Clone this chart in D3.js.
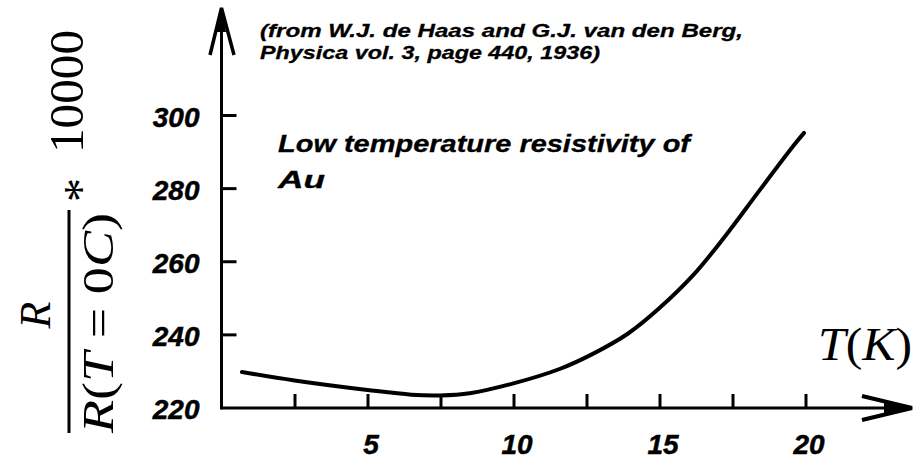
<!DOCTYPE html>
<html>
<head>
<meta charset="utf-8">
<script src="https://cdn.jsdelivr.net/npm/d3@7"></script>
<style>
  html, body { margin: 0; padding: 0; background: #fff; }
  svg { display: block; }
  .lbl { font-family: 'Liberation Sans', Arial, sans-serif; font-weight: bold; font-style: italic; stroke: #000; stroke-width: 0.5px; }
  .math { font-family: 'Liberation Serif', 'DejaVu Serif', serif; }
</style>
</head>
<body>
<svg id="graph"></svg>
<script>
const temps = [0.7, 2.5, 5, 6.5, 7.5, 8.5, 10, 11.6, 12.7, 13.9, 15, 16.2, 17.3, 18.4, 19.6, 19.95]
const resist = [229.7, 227.4, 224.8, 223.5, 223.3, 223.9, 226.6, 230.6, 234.6, 240.1, 247.2, 256.6, 267.4, 279.1, 291.7, 295.1]
const xTicks = [2.5, 5, 7.5, 10, 12.5, 15, 17.5, 20]
const xLabels = [5, 10, 15, 20]
const yTicks = [240, 260, 280, 300]
const yLabels = [220, 240, 260, 280, 300]

const w = 917
const h = 461
const x0 = 221.5
const y0 = 408

const svg = d3.select('#graph').attr('width', w).attr('height', h)

const x = d3.scaleLinear().domain([0, 20]).range([x0, 805.5])
const y = d3.scaleLinear().domain([220, 300]).range([407.5, 115])

// axis lines with arrow heads
svg.append('line')
  .attr('x1', x0).attr('y1', y0).attr('x2', 910).attr('y2', y0)
  .attr('stroke', '#000').attr('stroke-width', 3)
svg.append('line')
  .attr('x1', x0).attr('y1', y0 + 1.5).attr('x2', x0).attr('y2', 10)
  .attr('stroke', '#000').attr('stroke-width', 3)

svg.append('path')
  .attr('d', 'M862,396 L912,408 L862,420')
  .attr('fill', 'none').attr('stroke', '#000').attr('stroke-width', 4)
svg.append('path')
  .attr('d', 'M884,403 L912,408 L884,413 Z')
  .attr('fill', '#000')
svg.append('path')
  .attr('d', `M210,55 L${x0},8 L234,55`)
  .attr('fill', 'none').attr('stroke', '#000').attr('stroke-width', 3.5)
svg.append('path')
  .attr('d', `M217,32 L${x0},8 L226,32 Z`)
  .attr('fill', '#000')

// ticks
const xTickAxis = svg.append('g')
  .attr('transform', `translate(0,${y0})`)
  .call(d3.axisTop(x).tickValues(xTicks).tickSize(14).tickFormat(''))
xTickAxis.select('.domain').remove()
xTickAxis.selectAll('line').attr('stroke-width', 3)

const yTickAxis = svg.append('g')
  .attr('transform', `translate(${x0},0)`)
  .call(d3.axisRight(y).tickValues(yTicks).tickSize(15).tickFormat(''))
yTickAxis.select('.domain').remove()
yTickAxis.selectAll('line').attr('stroke-width', 3)

// tick labels
const xLab = svg.append('g')
  .attr('transform', `translate(3,${y0})`)
  .call(d3.axisBottom(x).tickValues(xLabels).tickSize(0).tickPadding(26))
xLab.select('.domain').remove()
xLab.selectAll('text')
  .attr('class', 'lbl')
  .style('font-size', '28px')
  .attr('fill', '#000')

const yLab = svg.append('g')
  .attr('transform', `translate(${x0},0)`)
  .call(d3.axisLeft(y).tickValues(yLabels).tickSize(0).tickPadding(22))
yLab.select('.domain').remove()
yLab.selectAll('text')
  .attr('class', 'lbl')
  .style('font-size', '28px')
  .attr('dy', 11)
  .attr('fill', '#000')

// curve
const line = d3.line()
  .x((d, i) => x(temps[i]))
  .y(d => y(d))
  .curve(d3.curveCatmullRom.alpha(0.5))

svg.append('path')
  .datum(resist)
  .attr('d', line)
  .attr('fill', 'none')
  .attr('stroke', '#000')
  .attr('stroke-width', 4)
  .attr('stroke-linecap', 'round')

// texts
const note = (txt, tx, ty, size, len) => svg.append('text')
  .attr('class', 'lbl')
  .attr('x', tx).attr('y', ty)
  .style('font-size', size + 'px')
  .style('stroke-width', '0.3px')
  .attr('textLength', len)
  .attr('lengthAdjust', 'spacingAndGlyphs')
  .text(txt)

note('(from W.J. de Haas and G.J. van den Berg,', 260, 37, 19, 483)
note('Physica vol. 3, page 440, 1936)', 260, 59, 19, 340)
note('Low temperature resistivity of', 278, 152, 23, 412)
note('Au', 278, 188, 23, 47)

// T(K) axis title
const tk = svg.append('text')
  .attr('class', 'math')
  .attr('x', 818).attr('y', 360)
  .style('font-size', '46px')
  .attr('textLength', 94)
  .attr('lengthAdjust', 'spacingAndGlyphs')
tk.append('tspan').style('font-style', 'italic').text('T')
tk.append('tspan').text('(')
tk.append('tspan').style('font-style', 'italic').text('K')
tk.append('tspan').text(')')

// rotated y title: R / R(T = 0C) * 10000
const yt = svg.append('g').attr('transform', 'rotate(-90)')

yt.append('text')
  .attr('class', 'math')
  .attr('x', -315).attr('y', 50)
  .attr('text-anchor', 'middle')
  .style('font-size', '44px')
  .style('font-style', 'italic')
  .text('R')

yt.append('line')
  .attr('x1', -433).attr('x2', -210)
  .attr('y1', 69).attr('y2', 69)
  .attr('stroke', '#000').attr('stroke-width', 3)

const den = yt.append('text')
  .attr('class', 'math')
  .attr('x', -433).attr('y', 113)
  .style('font-size', '44px')
  .attr('textLength', 220)
  .attr('lengthAdjust', 'spacingAndGlyphs')
den.append('tspan').style('font-style', 'italic').text('R')
den.append('tspan').text('(')
den.append('tspan').style('font-style', 'italic').text('T')
den.append('tspan').text(' = 0')
den.append('tspan').style('font-style', 'italic').text('C')
den.append('tspan').text(')')

yt.append('text')
  .attr('class', 'math')
  .attr('x', -190).attr('y', 97)
  .attr('text-anchor', 'middle')
  .style('font-size', '48px')
  .text('*')

yt.append('text')
  .attr('class', 'math')
  .attr('x', -153).attr('y', 83)
  .style('font-size', '48px')
  .attr('textLength', 123)
  .attr('lengthAdjust', 'spacingAndGlyphs')
  .text('10000')
</script>
</body>
</html>
